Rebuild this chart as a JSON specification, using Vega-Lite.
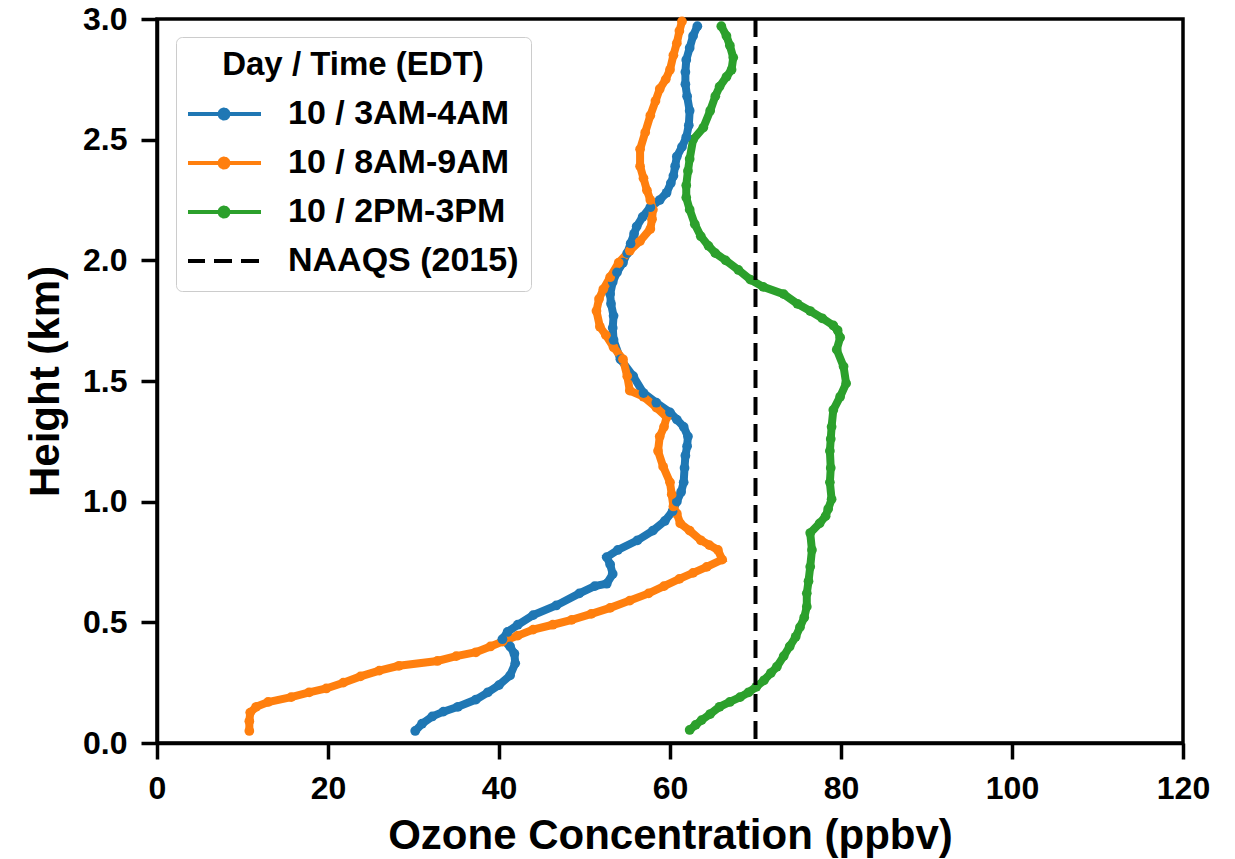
{
  "$schema": "https://vega.github.io/schema/vega-lite/v6.json",
  "width": 1026,
  "height": 724,
  "autosize": {"type": "none"},
  "padding": {"left": 157, "top": 19, "right": 52, "bottom": 116},
  "background": "white",
  "datasets": {
    "profiles": [
      {"series": "10 / 3AM-4AM", "height": 0.05, "ozone": 30.2},
      {"series": "10 / 3AM-4AM", "height": 0.08, "ozone": 31.0},
      {"series": "10 / 3AM-4AM", "height": 0.11, "ozone": 32.2},
      {"series": "10 / 3AM-4AM", "height": 0.13, "ozone": 33.5},
      {"series": "10 / 3AM-4AM", "height": 0.15, "ozone": 35.2},
      {"series": "10 / 3AM-4AM", "height": 0.18, "ozone": 37.3},
      {"series": "10 / 3AM-4AM", "height": 0.21, "ozone": 38.7},
      {"series": "10 / 3AM-4AM", "height": 0.24, "ozone": 40.0},
      {"series": "10 / 3AM-4AM", "height": 0.28, "ozone": 41.3},
      {"series": "10 / 3AM-4AM", "height": 0.33, "ozone": 41.9},
      {"series": "10 / 3AM-4AM", "height": 0.37, "ozone": 41.8},
      {"series": "10 / 3AM-4AM", "height": 0.40, "ozone": 41.3},
      {"series": "10 / 3AM-4AM", "height": 0.43, "ozone": 40.4},
      {"series": "10 / 3AM-4AM", "height": 0.46, "ozone": 41.0},
      {"series": "10 / 3AM-4AM", "height": 0.49, "ozone": 42.2},
      {"series": "10 / 3AM-4AM", "height": 0.53, "ozone": 44.0},
      {"series": "10 / 3AM-4AM", "height": 0.57, "ozone": 46.7},
      {"series": "10 / 3AM-4AM", "height": 0.62, "ozone": 49.4},
      {"series": "10 / 3AM-4AM", "height": 0.65, "ozone": 51.2},
      {"series": "10 / 3AM-4AM", "height": 0.66, "ozone": 52.6},
      {"series": "10 / 3AM-4AM", "height": 0.70, "ozone": 53.3},
      {"series": "10 / 3AM-4AM", "height": 0.74, "ozone": 53.0},
      {"series": "10 / 3AM-4AM", "height": 0.77, "ozone": 52.6},
      {"series": "10 / 3AM-4AM", "height": 0.80, "ozone": 53.9},
      {"series": "10 / 3AM-4AM", "height": 0.84, "ozone": 56.2},
      {"series": "10 / 3AM-4AM", "height": 0.88, "ozone": 58.0},
      {"series": "10 / 3AM-4AM", "height": 0.92, "ozone": 59.4},
      {"series": "10 / 3AM-4AM", "height": 0.96, "ozone": 60.3},
      {"series": "10 / 3AM-4AM", "height": 1.00, "ozone": 60.8},
      {"series": "10 / 3AM-4AM", "height": 1.04, "ozone": 61.3},
      {"series": "10 / 3AM-4AM", "height": 1.08, "ozone": 61.6},
      {"series": "10 / 3AM-4AM", "height": 1.14, "ozone": 61.7},
      {"series": "10 / 3AM-4AM", "height": 1.19, "ozone": 61.8},
      {"series": "10 / 3AM-4AM", "height": 1.23, "ozone": 62.0},
      {"series": "10 / 3AM-4AM", "height": 1.27, "ozone": 62.1},
      {"series": "10 / 3AM-4AM", "height": 1.31, "ozone": 61.6},
      {"series": "10 / 3AM-4AM", "height": 1.34, "ozone": 60.8},
      {"series": "10 / 3AM-4AM", "height": 1.37, "ozone": 60.0},
      {"series": "10 / 3AM-4AM", "height": 1.41, "ozone": 58.4},
      {"series": "10 / 3AM-4AM", "height": 1.45, "ozone": 56.9},
      {"series": "10 / 3AM-4AM", "height": 1.52, "ozone": 55.7},
      {"series": "10 / 3AM-4AM", "height": 1.59, "ozone": 54.2},
      {"series": "10 / 3AM-4AM", "height": 1.67, "ozone": 53.4},
      {"series": "10 / 3AM-4AM", "height": 1.72, "ozone": 53.3},
      {"series": "10 / 3AM-4AM", "height": 1.77, "ozone": 53.4},
      {"series": "10 / 3AM-4AM", "height": 1.82, "ozone": 53.1},
      {"series": "10 / 3AM-4AM", "height": 1.86, "ozone": 53.0},
      {"series": "10 / 3AM-4AM", "height": 1.91, "ozone": 53.3},
      {"series": "10 / 3AM-4AM", "height": 1.95, "ozone": 53.8},
      {"series": "10 / 3AM-4AM", "height": 1.99, "ozone": 54.5},
      {"series": "10 / 3AM-4AM", "height": 2.03, "ozone": 55.0},
      {"series": "10 / 3AM-4AM", "height": 2.07, "ozone": 55.4},
      {"series": "10 / 3AM-4AM", "height": 2.11, "ozone": 55.8},
      {"series": "10 / 3AM-4AM", "height": 2.14, "ozone": 56.1},
      {"series": "10 / 3AM-4AM", "height": 2.18, "ozone": 56.8},
      {"series": "10 / 3AM-4AM", "height": 2.22, "ozone": 57.7},
      {"series": "10 / 3AM-4AM", "height": 2.25, "ozone": 58.8},
      {"series": "10 / 3AM-4AM", "height": 2.28, "ozone": 59.6},
      {"series": "10 / 3AM-4AM", "height": 2.32, "ozone": 60.1},
      {"series": "10 / 3AM-4AM", "height": 2.35, "ozone": 60.4},
      {"series": "10 / 3AM-4AM", "height": 2.39, "ozone": 60.6},
      {"series": "10 / 3AM-4AM", "height": 2.43, "ozone": 60.8},
      {"series": "10 / 3AM-4AM", "height": 2.47, "ozone": 61.4},
      {"series": "10 / 3AM-4AM", "height": 2.51, "ozone": 61.9},
      {"series": "10 / 3AM-4AM", "height": 2.56, "ozone": 62.2},
      {"series": "10 / 3AM-4AM", "height": 2.62, "ozone": 62.3},
      {"series": "10 / 3AM-4AM", "height": 2.68, "ozone": 62.0},
      {"series": "10 / 3AM-4AM", "height": 2.73, "ozone": 61.8},
      {"series": "10 / 3AM-4AM", "height": 2.78, "ozone": 61.8},
      {"series": "10 / 3AM-4AM", "height": 2.83, "ozone": 61.9},
      {"series": "10 / 3AM-4AM", "height": 2.88, "ozone": 62.3},
      {"series": "10 / 3AM-4AM", "height": 2.93, "ozone": 62.7},
      {"series": "10 / 3AM-4AM", "height": 2.97, "ozone": 63.2},

      {"series": "10 / 8AM-9AM", "height": 0.05, "ozone": 10.8},
      {"series": "10 / 8AM-9AM", "height": 0.09, "ozone": 10.8},
      {"series": "10 / 8AM-9AM", "height": 0.126, "ozone": 10.9},
      {"series": "10 / 8AM-9AM", "height": 0.15, "ozone": 11.6},
      {"series": "10 / 8AM-9AM", "height": 0.17, "ozone": 13.0},
      {"series": "10 / 8AM-9AM", "height": 0.19, "ozone": 15.7},
      {"series": "10 / 8AM-9AM", "height": 0.21, "ozone": 17.8},
      {"series": "10 / 8AM-9AM", "height": 0.226, "ozone": 19.8},
      {"series": "10 / 8AM-9AM", "height": 0.25, "ozone": 21.8},
      {"series": "10 / 8AM-9AM", "height": 0.276, "ozone": 23.8},
      {"series": "10 / 8AM-9AM", "height": 0.30, "ozone": 26.0},
      {"series": "10 / 8AM-9AM", "height": 0.32, "ozone": 28.3},
      {"series": "10 / 8AM-9AM", "height": 0.34, "ozone": 32.8},
      {"series": "10 / 8AM-9AM", "height": 0.36, "ozone": 35.0},
      {"series": "10 / 8AM-9AM", "height": 0.376, "ozone": 37.3},
      {"series": "10 / 8AM-9AM", "height": 0.40, "ozone": 39.0},
      {"series": "10 / 8AM-9AM", "height": 0.42, "ozone": 40.4},
      {"series": "10 / 8AM-9AM", "height": 0.445, "ozone": 42.2},
      {"series": "10 / 8AM-9AM", "height": 0.47, "ozone": 44.0},
      {"series": "10 / 8AM-9AM", "height": 0.49, "ozone": 46.3},
      {"series": "10 / 8AM-9AM", "height": 0.51, "ozone": 48.5},
      {"series": "10 / 8AM-9AM", "height": 0.535, "ozone": 50.8},
      {"series": "10 / 8AM-9AM", "height": 0.56, "ozone": 53.0},
      {"series": "10 / 8AM-9AM", "height": 0.59, "ozone": 55.3},
      {"series": "10 / 8AM-9AM", "height": 0.62, "ozone": 57.5},
      {"series": "10 / 8AM-9AM", "height": 0.65, "ozone": 59.3},
      {"series": "10 / 8AM-9AM", "height": 0.68, "ozone": 61.1},
      {"series": "10 / 8AM-9AM", "height": 0.705, "ozone": 62.7},
      {"series": "10 / 8AM-9AM", "height": 0.73, "ozone": 64.3},
      {"series": "10 / 8AM-9AM", "height": 0.76, "ozone": 66.1},
      {"series": "10 / 8AM-9AM", "height": 0.80, "ozone": 65.6},
      {"series": "10 / 8AM-9AM", "height": 0.82, "ozone": 64.6},
      {"series": "10 / 8AM-9AM", "height": 0.84, "ozone": 63.6},
      {"series": "10 / 8AM-9AM", "height": 0.88, "ozone": 62.3},
      {"series": "10 / 8AM-9AM", "height": 0.91, "ozone": 61.2},
      {"series": "10 / 8AM-9AM", "height": 0.95, "ozone": 60.8},
      {"series": "10 / 8AM-9AM", "height": 0.98, "ozone": 60.4},
      {"series": "10 / 8AM-9AM", "height": 1.03, "ozone": 60.2},
      {"series": "10 / 8AM-9AM", "height": 1.08, "ozone": 60.0},
      {"series": "10 / 8AM-9AM", "height": 1.145, "ozone": 59.2},
      {"series": "10 / 8AM-9AM", "height": 1.21, "ozone": 58.6},
      {"series": "10 / 8AM-9AM", "height": 1.27, "ozone": 58.8},
      {"series": "10 / 8AM-9AM", "height": 1.31, "ozone": 59.3},
      {"series": "10 / 8AM-9AM", "height": 1.35, "ozone": 59.6},
      {"series": "10 / 8AM-9AM", "height": 1.39, "ozone": 58.4},
      {"series": "10 / 8AM-9AM", "height": 1.435, "ozone": 56.9},
      {"series": "10 / 8AM-9AM", "height": 1.46, "ozone": 55.3},
      {"series": "10 / 8AM-9AM", "height": 1.52, "ozone": 55.0},
      {"series": "10 / 8AM-9AM", "height": 1.59, "ozone": 54.5},
      {"series": "10 / 8AM-9AM", "height": 1.64, "ozone": 53.4},
      {"series": "10 / 8AM-9AM", "height": 1.69, "ozone": 52.5},
      {"series": "10 / 8AM-9AM", "height": 1.725, "ozone": 51.8},
      {"series": "10 / 8AM-9AM", "height": 1.79, "ozone": 51.4},
      {"series": "10 / 8AM-9AM", "height": 1.84, "ozone": 51.7},
      {"series": "10 / 8AM-9AM", "height": 1.88, "ozone": 52.2},
      {"series": "10 / 8AM-9AM", "height": 1.93, "ozone": 53.0},
      {"series": "10 / 8AM-9AM", "height": 1.99, "ozone": 54.0},
      {"series": "10 / 8AM-9AM", "height": 2.04, "ozone": 55.3},
      {"series": "10 / 8AM-9AM", "height": 2.08, "ozone": 56.5},
      {"series": "10 / 8AM-9AM", "height": 2.13, "ozone": 57.7},
      {"series": "10 / 8AM-9AM", "height": 2.17, "ozone": 57.9},
      {"series": "10 / 8AM-9AM", "height": 2.21, "ozone": 58.0},
      {"series": "10 / 8AM-9AM", "height": 2.25, "ozone": 57.7},
      {"series": "10 / 8AM-9AM", "height": 2.29, "ozone": 57.3},
      {"series": "10 / 8AM-9AM", "height": 2.34, "ozone": 56.9},
      {"series": "10 / 8AM-9AM", "height": 2.39, "ozone": 56.5},
      {"series": "10 / 8AM-9AM", "height": 2.46, "ozone": 56.5},
      {"series": "10 / 8AM-9AM", "height": 2.53, "ozone": 57.1},
      {"series": "10 / 8AM-9AM", "height": 2.60, "ozone": 57.7},
      {"series": "10 / 8AM-9AM", "height": 2.66, "ozone": 58.3},
      {"series": "10 / 8AM-9AM", "height": 2.71, "ozone": 58.8},
      {"series": "10 / 8AM-9AM", "height": 2.75, "ozone": 59.5},
      {"series": "10 / 8AM-9AM", "height": 2.79, "ozone": 60.0},
      {"series": "10 / 8AM-9AM", "height": 2.85, "ozone": 60.4},
      {"series": "10 / 8AM-9AM", "height": 2.90, "ozone": 60.8},
      {"series": "10 / 8AM-9AM", "height": 2.95, "ozone": 61.1},
      {"series": "10 / 8AM-9AM", "height": 2.99, "ozone": 61.4},

      {"series": "10 / 2PM-3PM", "height": 0.054, "ozone": 62.3},
      {"series": "10 / 2PM-3PM", "height": 0.075, "ozone": 63.0},
      {"series": "10 / 2PM-3PM", "height": 0.095, "ozone": 63.7},
      {"series": "10 / 2PM-3PM", "height": 0.12, "ozone": 64.7},
      {"series": "10 / 2PM-3PM", "height": 0.15, "ozone": 65.8},
      {"series": "10 / 2PM-3PM", "height": 0.17, "ozone": 67.0},
      {"series": "10 / 2PM-3PM", "height": 0.19, "ozone": 68.2},
      {"series": "10 / 2PM-3PM", "height": 0.21, "ozone": 69.2},
      {"series": "10 / 2PM-3PM", "height": 0.233, "ozone": 70.1},
      {"series": "10 / 2PM-3PM", "height": 0.26, "ozone": 71.0},
      {"series": "10 / 2PM-3PM", "height": 0.29, "ozone": 71.8},
      {"series": "10 / 2PM-3PM", "height": 0.316, "ozone": 72.5},
      {"series": "10 / 2PM-3PM", "height": 0.36, "ozone": 73.3},
      {"series": "10 / 2PM-3PM", "height": 0.40, "ozone": 74.0},
      {"series": "10 / 2PM-3PM", "height": 0.44, "ozone": 74.7},
      {"series": "10 / 2PM-3PM", "height": 0.48, "ozone": 75.2},
      {"series": "10 / 2PM-3PM", "height": 0.52, "ozone": 75.7},
      {"series": "10 / 2PM-3PM", "height": 0.565, "ozone": 76.0},
      {"series": "10 / 2PM-3PM", "height": 0.62, "ozone": 76.0},
      {"series": "10 / 2PM-3PM", "height": 0.67, "ozone": 76.2},
      {"series": "10 / 2PM-3PM", "height": 0.73, "ozone": 76.4},
      {"series": "10 / 2PM-3PM", "height": 0.80, "ozone": 76.6},
      {"series": "10 / 2PM-3PM", "height": 0.87, "ozone": 76.4},
      {"series": "10 / 2PM-3PM", "height": 0.91, "ozone": 77.5},
      {"series": "10 / 2PM-3PM", "height": 0.94, "ozone": 78.2},
      {"series": "10 / 2PM-3PM", "height": 0.97, "ozone": 78.5},
      {"series": "10 / 2PM-3PM", "height": 1.01, "ozone": 78.9},
      {"series": "10 / 2PM-3PM", "height": 1.08, "ozone": 78.7},
      {"series": "10 / 2PM-3PM", "height": 1.14, "ozone": 78.8},
      {"series": "10 / 2PM-3PM", "height": 1.21, "ozone": 78.7},
      {"series": "10 / 2PM-3PM", "height": 1.26, "ozone": 78.8},
      {"series": "10 / 2PM-3PM", "height": 1.31, "ozone": 78.9},
      {"series": "10 / 2PM-3PM", "height": 1.38, "ozone": 79.1},
      {"series": "10 / 2PM-3PM", "height": 1.435, "ozone": 79.9},
      {"series": "10 / 2PM-3PM", "height": 1.49, "ozone": 80.6},
      {"series": "10 / 2PM-3PM", "height": 1.56, "ozone": 80.3},
      {"series": "10 / 2PM-3PM", "height": 1.63, "ozone": 79.5},
      {"series": "10 / 2PM-3PM", "height": 1.68, "ozone": 79.9},
      {"series": "10 / 2PM-3PM", "height": 1.71, "ozone": 79.6},
      {"series": "10 / 2PM-3PM", "height": 1.73, "ozone": 79.1},
      {"series": "10 / 2PM-3PM", "height": 1.76, "ozone": 77.8},
      {"series": "10 / 2PM-3PM", "height": 1.79, "ozone": 76.4},
      {"series": "10 / 2PM-3PM", "height": 1.82, "ozone": 74.9},
      {"series": "10 / 2PM-3PM", "height": 1.86, "ozone": 73.3},
      {"series": "10 / 2PM-3PM", "height": 1.89, "ozone": 70.9},
      {"series": "10 / 2PM-3PM", "height": 1.92, "ozone": 69.4},
      {"series": "10 / 2PM-3PM", "height": 1.96, "ozone": 68.0},
      {"series": "10 / 2PM-3PM", "height": 2.00, "ozone": 66.5},
      {"series": "10 / 2PM-3PM", "height": 2.03, "ozone": 65.3},
      {"series": "10 / 2PM-3PM", "height": 2.06, "ozone": 64.5},
      {"series": "10 / 2PM-3PM", "height": 2.10, "ozone": 63.6},
      {"series": "10 / 2PM-3PM", "height": 2.15, "ozone": 62.9},
      {"series": "10 / 2PM-3PM", "height": 2.21, "ozone": 62.3},
      {"series": "10 / 2PM-3PM", "height": 2.26, "ozone": 61.9},
      {"series": "10 / 2PM-3PM", "height": 2.31, "ozone": 61.9},
      {"series": "10 / 2PM-3PM", "height": 2.37, "ozone": 62.1},
      {"series": "10 / 2PM-3PM", "height": 2.42, "ozone": 62.3},
      {"series": "10 / 2PM-3PM", "height": 2.50, "ozone": 62.7},
      {"series": "10 / 2PM-3PM", "height": 2.55, "ozone": 63.9},
      {"series": "10 / 2PM-3PM", "height": 2.62, "ozone": 64.7},
      {"series": "10 / 2PM-3PM", "height": 2.68, "ozone": 65.3},
      {"series": "10 / 2PM-3PM", "height": 2.72, "ozone": 65.8},
      {"series": "10 / 2PM-3PM", "height": 2.76, "ozone": 66.6},
      {"series": "10 / 2PM-3PM", "height": 2.79, "ozone": 67.2},
      {"series": "10 / 2PM-3PM", "height": 2.84, "ozone": 67.4},
      {"series": "10 / 2PM-3PM", "height": 2.89, "ozone": 67.0},
      {"series": "10 / 2PM-3PM", "height": 2.93, "ozone": 66.6},
      {"series": "10 / 2PM-3PM", "height": 2.97, "ozone": 66.0}
    ],
    "standard": [
      {"series": "NAAQS (2015)", "ozone": 70}
    ]
  },
  "encoding": {
    "color": {
      "field": "series",
      "type": "nominal",
      "scale": {
        "domain": ["10 / 3AM-4AM", "10 / 8AM-9AM", "10 / 2PM-3PM", "NAAQS (2015)"],
        "range": ["#1f77b4", "#ff7f0e", "#2ca02c", "#000000"]
      },
      "legend": {
        "title": "Day / Time (EDT)",
        "orient": "none",
        "legendX": 19,
        "legendY": 18,
        "padding": 12,
        "fillColor": "white",
        "strokeColor": "#cccccc",
        "cornerRadius": 6,
        "titleFont": "Liberation Sans",
        "titleFontSize": 33,
        "titleFontWeight": "bold",
        "titleColor": "black",
        "titleAnchor": "middle",
        "titleLimit": 600,
        "titlePadding": 14,
        "labelFont": "Liberation Sans",
        "labelFontSize": 34,
        "labelFontWeight": "bold",
        "labelColor": "black",
        "labelOffset": 25,
        "labelLimit": 600,
        "symbolSize": 5476,
        "symbolStrokeWidth": 4,
        "symbolOffset": -3,
        "clipHeight": 36,
        "rowPadding": 13,
        "encode": {
          "symbols": {
            "update": {
              "shape": {"signal": "datum.value === 'NAAQS (2015)' ? 'M-1,0L1,0' : 'M-1,0L1,0M0.12,0A0.12,0.12,0,1,1,-0.12,0A0.12,0.12,0,1,1,0.12,0Z'"},
              "fill": {"signal": "datum.value === 'NAAQS (2015)' ? 'transparent' : scale('color', datum.value)"},
              "stroke": {"signal": "scale('color', datum.value)"},
              "strokeDash": {"signal": "datum.value === 'NAAQS (2015)' ? [18, 9] : [1, 0]"},
              "strokeWidth": {"value": 4},
              "size": {"value": 5476},
              "opacity": {"value": 1}
            }
          }
        }
      }
    }
  },
  "layer": [
    {
      "data": {"name": "profiles"},
      "mark": {"type": "line", "strokeWidth": 8, "point": {"filled": true, "size": 95, "opacity": 1}},
      "encoding": {
        "x": {
          "field": "ozone", "type": "quantitative",
          "scale": {"domain": [0, 120], "nice": false, "zero": false},
          "axis": {
            "title": "Ozone Concentration (ppbv)",
            "values": [0, 20, 40, 60, 80, 100, 120],
            "format": "d",
            "labelPadding": 14,
            "titleY": 105,
            "titleBaseline": "alphabetic"
          }
        },
        "y": {
          "field": "height", "type": "quantitative",
          "scale": {"domain": [0, 3], "nice": false, "zero": false},
          "axis": {
            "title": "Height (km)",
            "values": [0, 0.5, 1, 1.5, 2, 2.5, 3],
            "format": ".1f",
            "labelPadding": 14,
            "titleX": -99,
            "titleBaseline": "alphabetic"
          }
        },
        "order": {"field": "height", "type": "quantitative"}
      }
    },
    {
      "data": {"name": "standard"},
      "mark": {"type": "rule", "strokeWidth": 4, "strokeDash": [18, 9]},
      "encoding": {
        "x": {"field": "ozone", "type": "quantitative"}
      }
    }
  ],
  "config": {
    "view": {"stroke": "black", "strokeWidth": 3.5},
    "axis": {
      "grid": false,
      "domainColor": "black",
      "domainWidth": 3.5,
      "tickColor": "black",
      "tickWidth": 3.5,
      "tickSize": 16,
      "labelFont": "Liberation Sans",
      "labelFontSize": 32,
      "labelFontWeight": "bold",
      "labelColor": "black",
      "labelFlush": false,
      "labelOverlap": false,
      "labelBound": false,
      "titleFont": "Liberation Sans",
      "titleFontSize": 42,
      "titleFontWeight": "bold",
      "titleColor": "black"
    }
  }
}
